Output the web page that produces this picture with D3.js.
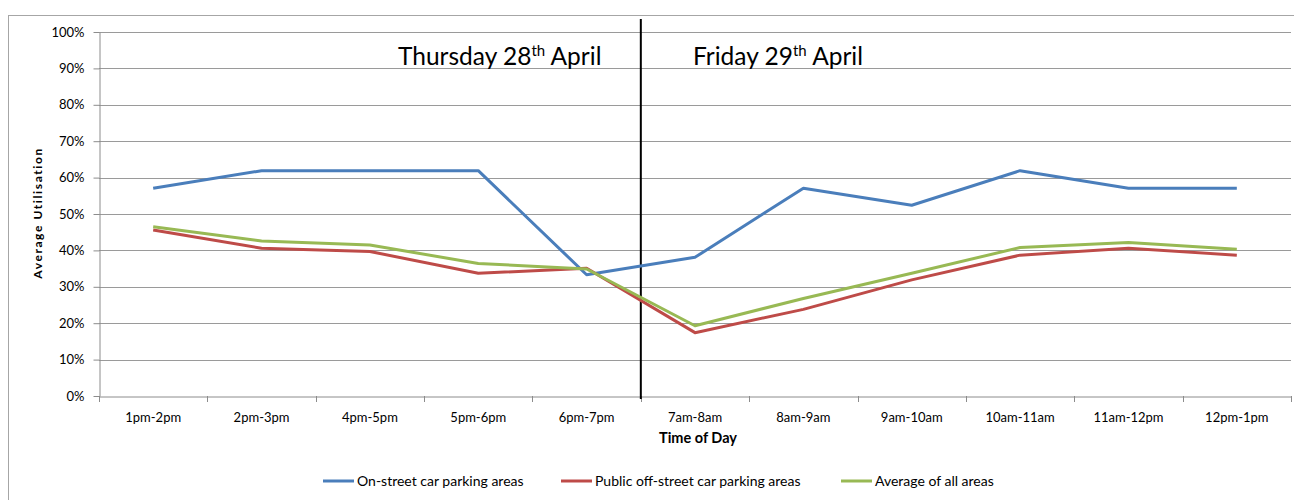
<!DOCTYPE html>
<html><head><meta charset="utf-8">
<script src="https://cdn.jsdelivr.net/npm/d3@7"></script>
<style>body{margin:0;background:#fff;} text{font-family:Lato,"Open Sans",sans-serif;}</style>
</head><body>
<svg id="c" width="1294" height="500"></svg>
<script>
const categories = ["1pm-2pm","2pm-3pm","4pm-5pm","5pm-6pm","6pm-7pm","7am-8am","8am-9am","9am-10am","10am-11am","11am-12pm","12pm-1pm"];
const onStreet = [57.1, 61.9, 61.9, 61.9, 33.3, 38.1, 57.1, 52.4, 61.9, 57.1, 57.1];
const offStreet = [45.6, 40.6, 39.7, 33.7, 35.1, 17.4, 23.8, 31.9, 38.7, 40.6, 38.7];
const average = [46.5, 42.6, 41.5, 36.4, 34.9, 19.3, 26.8, 33.7, 40.8, 42.2, 40.3];
const yTicks = [0,10,20,30,40,50,60,70,80,90,100];
const seriesNames = ["On-street car parking areas","Public off-street car parking areas","Average of all areas"];
const seriesColors = ["#4a7ebb","#be4b48","#98b954"];
const dayLabels = [["Thursday 28","th"," April"],["Friday 29","th"," April"]];
const dividerAfter = "6pm-7pm";

const svg = d3.select("#c");
const L=99,R=1291,T=32,B=396;
svg.append("rect").attr("x",8.5).attr("y",15.5).attr("width",1300).attr("height",500).attr("fill","none").attr("stroke","#a6a6a6").attr("stroke-width",1);

const x = d3.scaleBand().domain(categories).range([L,R]);
const y = d3.scaleLinear().domain([0,100]).range([B,T]);

// gridlines
svg.append("g").selectAll("line").data(yTicks.filter(d=>d>0)).join("line")
  .attr("x1",L).attr("x2",R).attr("y1",d=>Math.round(y(d))+0.5).attr("y2",d=>Math.round(y(d))+0.5)
  .attr("stroke","#9a9a9a").attr("stroke-width",1);

// y axis
const ya = svg.append("g").attr("transform",`translate(${L+0.5},0)`)
  .call(d3.axisLeft(y).tickValues(yTicks).tickFormat(d=>d+"%").tickSize(6).tickSizeOuter(0));
ya.select(".domain").attr("stroke","#8c8c8c");
ya.selectAll(".tick line").attr("stroke","#8c8c8c");
ya.selectAll(".tick text").attr("x",-15).attr("font-size",13).attr("fill","#000").style("font-family","Lato");

// x axis
const xa = svg.append("g").attr("transform",`translate(0,${B+0.5})`)
  .call(d3.axisBottom(x).tickSize(0).tickSizeOuter(0));
xa.select(".domain").attr("stroke","#8c8c8c");
xa.selectAll(".tick text").attr("y",16).attr("font-size",13).attr("fill","#000").style("font-family","Lato");
const bounds = categories.map(c=>x(c)).concat([R]);
svg.append("g").selectAll("line").data(bounds).join("line")
  .attr("x1",d=>Math.round(d)+0.5).attr("x2",d=>Math.round(d)+0.5).attr("y1",B).attr("y2",B+6)
  .attr("stroke","#8c8c8c");

// divider
const dx = x(dividerAfter)+x.bandwidth();
svg.append("line").attr("x1",dx).attr("x2",dx).attr("y1",19).attr("y2",B+3).attr("stroke","#000").attr("stroke-width",2);

// lines
const line = d3.line().x((d,i)=>x(categories[i])+x.bandwidth()/2).y(d=>y(d));
[onStreet,offStreet,average].forEach((s,i)=>{
  svg.append("path").datum(s).attr("d",line).attr("fill","none").attr("stroke",seriesColors[i]).attr("stroke-width",3).attr("stroke-linejoin","round");
});

// day labels
const dayX = [398, 693];
dayLabels.forEach((p,i)=>{
  const t = svg.append("text").attr("x",dayX[i]).attr("y",65).attr("font-size",24.5).attr("fill","#000");
  t.append("tspan").text(p[0]);
  t.append("tspan").attr("dy",-9).attr("font-size",15).text(p[1]);
  t.append("tspan").attr("dy",9).text(p[2]);
});

// axis titles
svg.append("text").attr("transform","translate(42,213) rotate(-90)").attr("text-anchor","middle")
  .attr("font-size",12).attr("font-weight","bold").attr("letter-spacing",1.6).text("Average Utilisation");
svg.append("text").attr("x",698).attr("y",443).attr("text-anchor","middle")
  .attr("font-size",14.5).attr("font-weight","bold").text("Time of Day");

// legend
const legX = [323, 561, 841];
seriesNames.forEach((n,i)=>{
  const g = svg.append("g").attr("transform",`translate(${legX[i]},481)`);
  g.append("line").attr("x1",0).attr("x2",31).attr("stroke",seriesColors[i]).attr("stroke-width",3);
  g.append("text").attr("x",34).attr("y",5).attr("font-size",14).text(n);
});
</script>
</body></html>
